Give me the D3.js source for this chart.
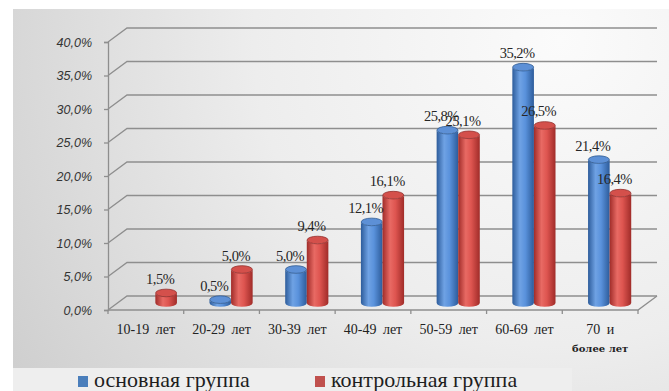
<!DOCTYPE html>
<html>
<head>
<meta charset="utf-8">
<script src="https://cdn.jsdelivr.net/npm/d3@7"></script>
<style>
  html, body { margin: 0; padding: 0; background: #fff; }
  svg { display: block; }
  .serif { font-family: "Liberation Serif", "DejaVu Serif", serif; }
  .sans { font-family: "Liberation Sans", Arial, sans-serif; }
  .serif2 { font-family: "DejaVu Serif", "Liberation Serif", serif; }
</style>
</head>
<body>
<svg id="chart" width="669" height="391"></svg>
<script>
// Age groups (each label may span several lines)
const categories = [
  ["10-19 лет"],
  ["20-29 лет"],
  ["30-39 лет"],
  ["40-49 лет"],
  ["50-59 лет"],
  ["60-69 лет"],
  ["70 и", "более лет"]
];
const seriesNames = ["основная группа", "контрольная группа"];
// Share of patients, %
const mainGroup    = [0,   0.5, 5.0, 12.1, 25.8, 35.2, 21.4];
const controlGroup = [1.5, 5.0, 9.4, 16.1, 25.1, 26.5, 16.4];
const yTicks = [0, 5, 10, 15, 20, 25, 30, 35, 40];

const W = 669, H = 391;
const svg = d3.select("#chart");
const defs = svg.append("defs");

const ruLocale = d3.formatLocale({ decimal: ",", thousands: " ", grouping: [3], currency: ["", ""] });
const pct = v => ruLocale.format(".1f")(v) + "%";

// Background panel
const bg = defs.append("radialGradient").attr("id", "bgGrad")
  .attr("gradientUnits", "userSpaceOnUse")
  .attr("cx", 560).attr("cy", 40).attr("r", 680);
bg.append("stop").attr("offset", 0).attr("stop-color", "#fbfbfb");
bg.append("stop").attr("offset", 0.45).attr("stop-color", "#ededed");
bg.append("stop").attr("offset", 1).attr("stop-color", "#cbcbcb");

svg.append("rect").attr("width", W).attr("height", H).attr("fill", "#ffffff");
svg.append("rect").attr("x", 13).attr("y", 9).attr("width", W - 13).attr("height", H - 9)
  .attr("fill", "url(#bgGrad)");
svg.append("rect").attr("x", 13).attr("y", 368).attr("width", 559).attr("height", H - 368)
  .attr("fill", "#eeeeee");

// 3D frame geometry
const depth = { dx: 19, dy: -14 };
const left = 108, right = 638;
const y = d3.scaleLinear().domain([0, 40]).range([310, 42]);
const x = d3.scaleBand().domain(d3.range(categories.length)).range([left, right]);
const groupW = x.bandwidth() * 0.57;
const xs = d3.scaleBand().domain(d3.range(seriesNames.length)).range([0, groupW]);

const gridColor = "#8e8e8e";
const grid = svg.append("g").attr("stroke", gridColor).attr("stroke-width", 1.3).attr("fill", "none");

// Back wall gridlines plus side-wall diagonals
yTicks.forEach(t => {
  const y0 = y(t);
  grid.append("path")
    .attr("d", `M${left},${y0} L${left + depth.dx},${y0 + depth.dy} L${right + depth.dx},${y0 + depth.dy}`);
});
// Floor front edge and right side
grid.append("path")
  .attr("d", `M${left},${y(0)} L${right},${y(0)} L${right + depth.dx},${y(0) + depth.dy}`);

// Value axis
const yAxis = svg.append("g")
  .attr("transform", `translate(${left},0)`)
  .call(d3.axisLeft(y).tickValues(yTicks).tickSize(4).tickPadding(12).tickFormat(pct));
yAxis.attr("font-family", null).attr("font-size", null);
yAxis.select(".domain").attr("stroke", gridColor).attr("stroke-width", 1.3);
yAxis.selectAll(".tick line").attr("stroke", gridColor).attr("stroke-width", 1.3);
yAxis.selectAll(".tick text")
  .attr("class", "sans")
  .style("font-style", "italic")
  .style("font-size", "12.5px")
  .attr("fill", "#333333");

// Category ticks under the floor
const boundaries = d3.range(categories.length + 1).map(i =>
  i < categories.length ? x(i) : x(i - 1) + x.bandwidth());
svg.append("g").selectAll("line").data(boundaries).join("line")
  .attr("x1", d => d).attr("x2", d => d)
  .attr("y1", y(0)).attr("y2", y(0) + 4)
  .attr("stroke", gridColor).attr("stroke-width", 1.3);

// Category labels
const xl = svg.append("g");
categories.forEach((lines, i) => {
  const cx = x(i) + x.bandwidth() / 2;
  lines.forEach((line, j) => {
    xl.append("text")
      .attr("class", j === 0 ? "serif" : "serif2")
      .attr("x", cx).attr("y", 334 + j * 18)
      .attr("text-anchor", "middle")
      .style("font-size", j === 0 ? "14px" : "10px")
      .style("font-weight", j === 0 ? "normal" : "bold")
      .style("word-spacing", j === 0 ? "3px" : "0px")
      .attr("fill", "#222")
      .text(line);
  });
});

// Cylinder shading
const palettes = [
  { edge: "#2d5c9b", mid: "#5a92dc", light: "#6fa2e4", top: "#5d90d6", rim: "#2f5a92", legend: "#4a7ebb" },
  { edge: "#a02c29", mid: "#de5550", light: "#e86a64", top: "#d4504b", rim: "#93302d", legend: "#c0504d" }
];
palettes.forEach((p, k) => {
  const g = defs.append("linearGradient").attr("id", "cyl" + k)
    .attr("x1", 0).attr("x2", 1).attr("y1", 0).attr("y2", 0);
  g.append("stop").attr("offset", 0).attr("stop-color", p.edge);
  g.append("stop").attr("offset", 0.35).attr("stop-color", p.light);
  g.append("stop").attr("offset", 0.6).attr("stop-color", p.mid);
  g.append("stop").attr("offset", 1).attr("stop-color", p.edge);
});

const series = [mainGroup, controlGroup];
const bars = svg.append("g");
const labels = svg.append("g");
const midDx = depth.dx / 2, midDy = depth.dy / 2;
const rx = xs.bandwidth() / 2, ry = 3.8;

categories.forEach((_, i) => {
  series.forEach((vals, k) => {
    const v = vals[i];
    if (!(v > 0)) return;
    const x0 = x(i) + (x.bandwidth() - groupW) / 2 + xs(k) + midDx;
    const x1 = x0 + xs.bandwidth();
    const yb = y(0) + midDy;
    const yt = y(v) + midDy;
    const p = palettes[k];
    bars.append("path")
      .attr("d", `M${x0},${yt} L${x0},${yb} A${rx},${ry} 0 0 0 ${x1},${yb} L${x1},${yt} A${rx},${ry} 0 0 1 ${x0},${yt} Z`)
      .attr("fill", `url(#cyl${k})`);
    bars.append("ellipse")
      .attr("cx", (x0 + x1) / 2).attr("cy", yt)
      .attr("rx", rx - 0.3).attr("ry", ry)
      .attr("fill", p.top).attr("stroke", p.rim).attr("stroke-width", 0.8);
    labels.append("text")
      .attr("class", "serif")
      .attr("x", (x0 + x1) / 2 - 6).attr("y", yt - 9)
      .attr("text-anchor", "middle")
      .style("font-size", "14.5px")
      .style("letter-spacing", "-0.5px")
      .attr("fill", "#262626")
      .text(pct(v));
  });
});

// Legend
const legendX = [78, 315];
const lg = svg.append("g");
seriesNames.forEach((name, k) => {
  lg.append("rect").attr("x", legendX[k]).attr("y", 376).attr("width", 10).attr("height", 11)
    .attr("fill", palettes[k].legend);
  lg.append("text")
    .attr("class", "serif")
    .attr("x", legendX[k] + 16).attr("y", 387)
    .style("font-size", "22px")
    .attr("fill", "#1e1e1e")
    .text(name);
});
</script>
</body>
</html>
